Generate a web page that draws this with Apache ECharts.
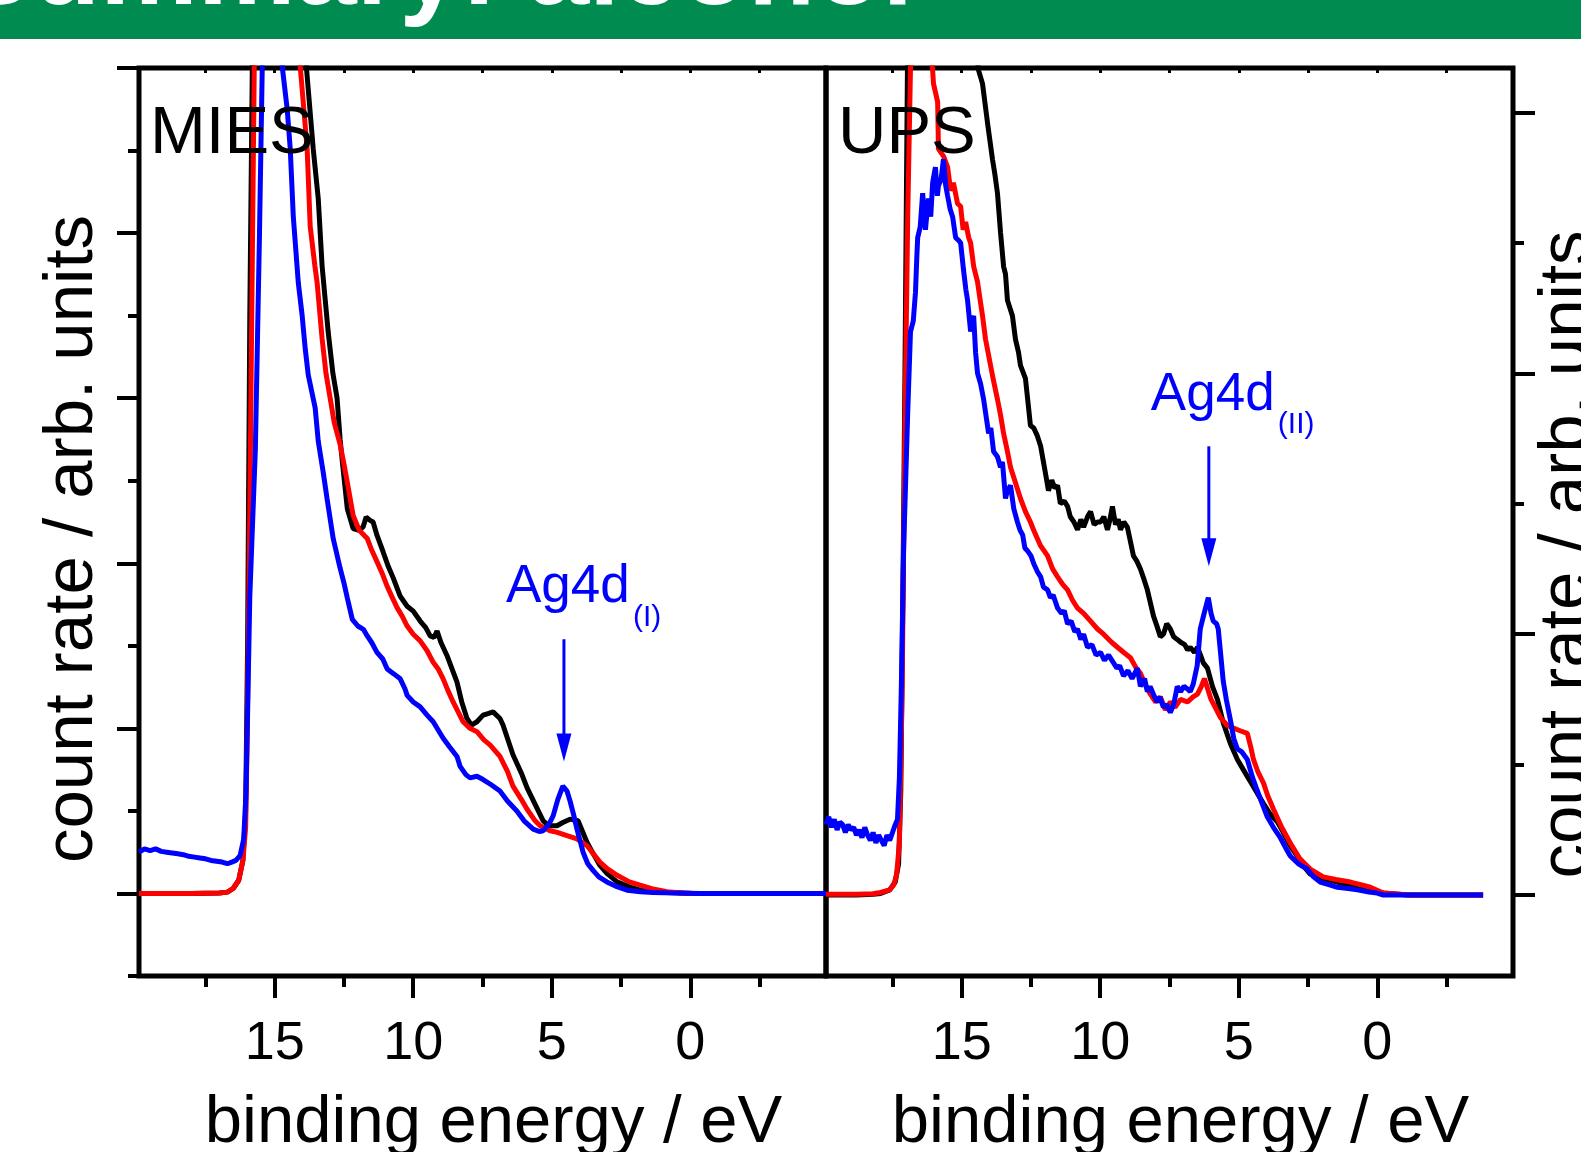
<!DOCTYPE html>
<html><head><meta charset="utf-8">
<script src="https://cdn.jsdelivr.net/npm/echarts@6/dist/echarts.min.js"></script>
<style>html,body{margin:0;padding:0;background:#fff}#c{width:1581px;height:1152px}</style>
</head><body><div id="c"></div>
<script>
// ---------- tick values ----------
const majorEnergyTicks = [15, 10, 5, 0];
const minorEnergyTicks = [17.5, 12.5, 7.5, 2.5, -2.5];
const allEnergyTicks = [17.5, 15, 12.5, 10, 7.5, 5, 2.5, 0, -2.5];
const miesMajorTicks = [0, 1, 2, 3, 4, 5];
const miesMinorTicks = [-0.5, 0.5, 1.5, 2.5, 3.5, 4.5];
const upsMajorTicks = [0, 1, 2, 3];
const upsMinorTicks = [0.5, 1.5, 2.5];
const panelTitles = ['MIES', 'UPS'];
const headerText = 'Summary: alcohol';
const xAxisTitle = 'binding energy / eV';
const yAxisTitle = 'count rate / arb. units';
const peakLabels = ['Ag4d', 'Ag4d'];
const peakSubs = ['(I)', '(II)'];
// arrows: energy, arrow top value, arrow tip value
const arrowEnergy = [4.56, 6.08];
const arrowTop = [1.54, 1.72];
const arrowTip = [0.80, 1.26];

// ---------- MIES panel ----------
const miesBlack = [[19.9,0],[18,0],[17,0.003],[16.71,0.008],[16.5,0.03],[16.3,0.08],[16.15,0.2],[16.05,0.5],[15.98,1.5],[15.9,3.5],[15.78,5.5],[15.6,6.6],[15.2,7.2],[14.7,7.0],[14.2,6.0],[13.86,5.01],[13.61,4.51],[13.43,4.21],[13.29,3.80],[13.07,3.40],[12.9,3.15],[12.75,3.00],[12.64,2.75],[12.55,2.6],[12.38,2.33],[12.17,2.21],[11.95,2.20],[11.81,2.22],[11.7,2.28],[11.56,2.26],[11.45,2.25],[11.31,2.17],[11.09,2.07],[10.9,1.98],[10.72,1.91],[10.47,1.80],[10.22,1.74],[10.0,1.71],[9.75,1.65],[9.55,1.61],[9.39,1.56],[9.25,1.55],[9.14,1.59],[9.0,1.52],[8.78,1.44],[8.6,1.36],[8.42,1.28],[8.25,1.16],[8.06,1.06],[7.9,1.02],[7.84,1.02],[7.7,1.04],[7.48,1.08],[7.3,1.09],[7.12,1.10],[6.87,1.06],[6.76,1.02],[6.6,0.94],[6.40,0.84],[6.1,0.73],[5.89,0.64],[5.6,0.54],[5.31,0.44],[5.1,0.41],[4.81,0.41],[4.6,0.43],[4.34,0.45],[4.05,0.44],[3.9,0.38],[3.73,0.31],[3.5,0.24],[3.26,0.17],[3.0,0.12],[2.64,0.07],[2.2,0.04],[1.81,0.02],[1.2,0.01],[0.84,0.006],[-0.1,0],[-4.9,0]];
const miesRed = [[19.9,0],[18,0],[17,0.003],[16.71,0.008],[16.5,0.03],[16.3,0.08],[16.15,0.2],[16.05,0.4],[16.0,0.9],[15.92,2.0],[15.8,4.0],[15.74,5.0],[15.6,6.2],[15.2,6.9],[14.7,6.6],[14.3,5.7],[14.08,5.01],[13.83,4.51],[13.72,4.04],[13.55,3.80],[13.47,3.70],[13.29,3.36],[13.15,3.15],[13.0,3.00],[12.85,2.85],[12.64,2.72],[12.5,2.60],[12.38,2.49],[12.17,2.29],[11.95,2.20],[11.66,2.15],[11.5,2.08],[11.31,2.01],[11.1,1.93],[10.94,1.86],[10.75,1.79],[10.58,1.73],[10.4,1.68],[10.22,1.62],[10.0,1.57],[9.75,1.53],[9.5,1.47],[9.28,1.40],[9.1,1.36],[8.92,1.30],[8.75,1.23],[8.56,1.16],[8.38,1.10],[8.20,1.04],[7.95,1.0],[7.70,0.98],[7.45,0.93],[7.23,0.90],[6.87,0.83],[6.6,0.74],[6.40,0.65],[6.1,0.57],[5.89,0.51],[5.6,0.44],[5.42,0.41],[5.06,0.38],[4.8,0.37],[4.45,0.35],[4.09,0.33],[3.73,0.29],[3.5,0.24],[3.26,0.19],[3.0,0.15],[2.64,0.11],[2.2,0.07],[1.81,0.05],[1.3,0.025],[0.84,0.01],[0.3,0.003],[-0.1,0],[-4.9,0]];
const miesBlue = [[19.9,0.25],[19.7,0.27],[19.5,0.26],[19.3,0.27],[19.1,0.255],[18.9,0.25],[18.7,0.245],[18.5,0.24],[18.3,0.235],[18.1,0.225],[17.9,0.22],[17.7,0.215],[17.5,0.21],[17.3,0.2],[17.1,0.195],[16.9,0.19],[16.71,0.18],[16.55,0.19],[16.4,0.2],[16.25,0.23],[16.12,0.33],[16.04,0.6],[15.99,1.0],[15.9,1.8],[15.7,2.69],[15.55,4.0],[15.45,5.01],[15.2,5.6],[14.95,5.5],[14.73,5.01],[14.55,4.75],[14.44,4.51],[14.33,4.10],[14.15,3.70],[14.01,3.50],[13.9,3.30],[13.79,3.14],[13.54,2.94],[13.43,2.74],[13.25,2.55],[13.11,2.39],[12.89,2.15],[12.64,1.97],[12.5,1.88],[12.38,1.79],[12.20,1.66],[12.0,1.62],[11.8,1.60],[11.66,1.56],[11.5,1.52],[11.31,1.46],[11.1,1.42],[10.94,1.36],[10.7,1.33],[10.47,1.30],[10.3,1.24],[10.22,1.20],[10.0,1.16],[9.75,1.13],[9.5,1.08],[9.28,1.04],[9.1,0.99],[8.92,0.94],[8.7,0.89],[8.42,0.83],[8.31,0.77],[8.1,0.72],[7.95,0.70],[7.7,0.71],[7.48,0.69],[7.2,0.66],[6.87,0.62],[6.6,0.56],[6.26,0.50],[6.0,0.44],[5.67,0.39],[5.45,0.375],[5.31,0.38],[5.1,0.42],[4.95,0.47],[4.78,0.57],[4.60,0.65],[4.45,0.62],[4.34,0.56],[4.2,0.47],[4.09,0.39],[3.87,0.25],[3.7,0.18],[3.51,0.14],[3.3,0.10],[3.01,0.07],[2.7,0.045],[2.28,0.02],[1.8,0.01],[1.35,0.006],[0.5,0.002],[-0.35,0],[-4.9,0]];

// ---------- UPS panel ----------
const upsBlack = [[19.9,0],[18.8,0],[18.2,0.003],[17.93,0.006],[17.6,0.02],[17.4,0.05],[17.28,0.12],[17.2,0.4],[17.12,1.2],[17.05,2.0],[16.96,3.17],[16.7,3.7],[16.0,4.0],[15.2,3.8],[14.7,3.4],[14.39,3.16],[14.25,3.11],[14.07,2.96],[13.89,2.82],[13.80,2.76],[13.71,2.69],[13.60,2.54],[13.49,2.41],[13.42,2.38],[13.35,2.28],[13.17,2.22],[13.06,2.13],[12.95,2.08],[12.88,2.03],[12.70,1.98],[12.60,1.88],[12.52,1.80],[12.40,1.79],[12.27,1.76],[12.15,1.72],[12.05,1.66],[11.95,1.60],[11.87,1.55],[11.75,1.59],[11.64,1.56],[11.54,1.57],[11.44,1.50],[11.30,1.51],[11.18,1.49],[11.08,1.45],[10.95,1.43],[10.82,1.40],[10.70,1.44],[10.60,1.41],[10.46,1.45],[10.35,1.47],[10.22,1.42],[10.10,1.43],[9.99,1.43],[9.87,1.45],[9.74,1.40],[9.65,1.44],[9.56,1.49],[9.45,1.42],[9.35,1.44],[9.27,1.40],[9.15,1.43],[9.02,1.41],[8.92,1.36],[8.80,1.30],[8.68,1.28],[8.55,1.25],[8.42,1.21],[8.30,1.17],[8.19,1.12],[8.08,1.07],[7.95,1.03],[7.83,0.99],[7.72,1.00],[7.60,1.04],[7.47,1.02],[7.35,0.99],[7.22,0.98],[7.11,0.97],[6.95,0.96],[6.85,0.94],[6.75,0.95],[6.60,0.93],[6.49,0.95],[6.38,0.92],[6.28,0.89],[6.13,0.87],[5.95,0.80],[5.77,0.75],[5.56,0.66],[5.30,0.58],[5.05,0.52],[4.83,0.48],[4.55,0.43],[4.33,0.39],[4.1,0.35],[3.86,0.31],[3.6,0.28],[3.39,0.24],[3.15,0.19],[2.89,0.15],[2.65,0.11],[2.42,0.08],[2.0,0.065],[1.44,0.05],[0.7,0.025],[-0.22,0.008],[-1.08,0],[-3.82,0]];
const upsRed = [[19.9,0.003],[18.8,0.003],[18.2,0.005],[17.93,0.01],[17.6,0.02],[17.45,0.04],[17.35,0.08],[17.25,0.2],[17.15,0.8],[17.05,1.8],[16.95,2.6],[16.85,3.17],[16.6,3.6],[16.3,3.45],[16.05,3.16],[16.02,3.11],[15.87,3.04],[15.84,2.86],[15.65,2.83],[15.51,2.79],[15.40,2.70],[15.30,2.73],[15.15,2.65],[15.04,2.64],[14.95,2.55],[14.86,2.58],[14.75,2.52],[14.68,2.50],[14.57,2.41],[14.43,2.35],[14.32,2.27],[14.25,2.22],[14.14,2.13],[14.05,2.08],[13.96,2.03],[13.85,1.97],[13.71,1.90],[13.60,1.84],[13.49,1.77],[13.35,1.70],[13.24,1.64],[13.06,1.58],[12.88,1.52],[12.70,1.47],[12.52,1.43],[12.41,1.40],[12.16,1.34],[11.90,1.30],[11.72,1.25],[11.54,1.22],[11.35,1.19],[11.18,1.17],[11.0,1.13],[10.82,1.10],[10.6,1.08],[10.35,1.05],[10.1,1.02],[9.88,1.00],[9.6,0.97],[9.38,0.95],[9.15,0.93],[8.91,0.91],[8.7,0.87],[8.55,0.85],[8.35,0.80],[8.19,0.77],[8.0,0.74],[7.83,0.76],[7.65,0.71],[7.47,0.74],[7.3,0.72],[7.1,0.75],[6.85,0.74],[6.65,0.76],[6.49,0.77],[6.35,0.80],[6.24,0.83],[6.12,0.79],[6.0,0.75],[5.85,0.72],[5.66,0.68],[5.41,0.65],[5.19,0.64],[4.95,0.63],[4.69,0.62],[4.55,0.56],[4.47,0.52],[4.3,0.47],[4.11,0.43],[3.95,0.38],[3.75,0.33],[3.45,0.26],[3.14,0.20],[2.8,0.14],[2.42,0.10],[1.95,0.07],[1.5,0.06],[0.97,0.05],[0.6,0.04],[0.25,0.03],[-0.22,0.008],[-1.19,0],[-3.82,0]];
const upsBlue = [[19.9,0.27],[19.8,0.30],[19.7,0.26],[19.6,0.29],[19.5,0.25],[19.4,0.28],[19.3,0.27],[19.2,0.24],[19.1,0.27],[19.0,0.25],[18.9,0.26],[18.8,0.23],[18.7,0.25],[18.6,0.22],[18.5,0.26],[18.4,0.23],[18.3,0.21],[18.2,0.24],[18.1,0.20],[18.0,0.23],[17.9,0.21],[17.8,0.19],[17.7,0.23],[17.6,0.21],[17.5,0.24],[17.4,0.27],[17.32,0.29],[17.25,0.45],[17.18,0.8],[17.10,1.32],[16.95,1.85],[16.85,2.16],[16.75,2.20],[16.67,2.31],[16.62,2.45],[16.59,2.52],[16.5,2.56],[16.41,2.69],[16.31,2.55],[16.25,2.62],[16.20,2.67],[16.12,2.60],[16.05,2.73],[15.95,2.79],[15.88,2.68],[15.84,2.72],[15.75,2.74],[15.66,2.82],[15.58,2.72],[15.51,2.68],[15.42,2.63],[15.33,2.60],[15.22,2.52],[15.12,2.51],[15.04,2.50],[14.94,2.40],[14.85,2.32],[14.79,2.28],[14.68,2.16],[14.60,2.21],[14.57,2.22],[14.50,2.08],[14.43,2.00],[14.32,1.96],[14.21,1.90],[14.10,1.82],[14.03,1.77],[13.95,1.79],[13.85,1.70],[13.71,1.68],[13.60,1.64],[13.53,1.66],[13.42,1.52],[13.35,1.55],[13.24,1.57],[13.12,1.48],[12.99,1.43],[12.90,1.40],[12.80,1.38],[12.72,1.33],[12.63,1.32],[12.50,1.30],[12.40,1.27],[12.27,1.24],[12.15,1.22],[12.05,1.18],[11.90,1.17],[11.80,1.14],[11.70,1.15],[11.54,1.10],[11.40,1.08],[11.30,1.09],[11.18,1.04],[11.05,1.05],[10.92,1.01],[10.82,1.02],[10.70,0.98],[10.60,1.00],[10.46,0.95],[10.30,0.96],[10.15,0.92],[9.99,0.93],[9.85,0.90],[9.70,0.92],[9.52,0.89],[9.40,0.87],[9.30,0.88],[9.16,0.84],[9.00,0.86],[8.85,0.83],[8.66,0.87],[8.55,0.80],[8.40,0.83],[8.30,0.78],[8.20,0.80],[8.08,0.77],[7.95,0.74],[7.85,0.76],[7.72,0.72],[7.60,0.73],[7.47,0.70],[7.35,0.73],[7.22,0.80],[7.10,0.78],[6.98,0.80],[6.85,0.79],[6.75,0.78],[6.64,0.81],[6.50,0.88],[6.39,1.02],[6.25,1.08],[6.10,1.14],[6.00,1.08],[5.92,1.05],[5.80,1.04],[5.74,1.02],[5.65,0.92],[5.56,0.82],[5.45,0.75],[5.30,0.67],[5.18,0.60],[5.05,0.56],[4.90,0.55],[4.69,0.52],[4.50,0.45],[4.33,0.40],[4.15,0.35],[3.97,0.30],[3.75,0.26],[3.50,0.22],[3.30,0.18],[3.14,0.15],[2.85,0.12],[2.53,0.10],[2.30,0.07],[2.06,0.05],[1.75,0.04],[1.44,0.03],[1.05,0.025],[0.72,0.02],[0.3,0.012],[0,0.008],[-0.22,0],[-3.82,0]];

// ---------- chart ----------
const FONT = "'Liberation Sans', Arial, Helvetica, sans-serif";
const BLACK = '#000000', RED = '#ff0000', BLUE = '#0000ff';
const chart = echarts.init(document.getElementById('c'), null, {renderer: 'canvas'});

function energyAxis(gridIndex, kind) {
  const base = {
    type: 'value', gridIndex: gridIndex, min: -4.9, max: 19.9, inverse: true,
    axisLine: {show: false, onZero: false}, splitLine: {show: false}, minorTick: {show: false},
    axisLabel: {show: false}, axisPointer: {show: false}
  };
  if (kind === 'major') {
    base.position = 'bottom';
    base.axisTick = {show: true, customValues: majorEnergyTicks, length: 22, inside: false, lineStyle: {color: BLACK, width: 4}};
    base.axisLabel = {show: true, customValues: majorEnergyTicks, margin: 41, fontSize: 54, color: BLACK, fontFamily: FONT};
    base.name = xAxisTitle;
    base.nameLocation = 'middle';
    base.nameGap = 114;
    base.nameTextStyle = {fontSize: 67, color: BLACK, fontFamily: FONT, padding: [0, 0, 0, 22]};
  } else if (kind === 'minor') {
    base.position = 'bottom';
    base.axisTick = {show: true, customValues: minorEnergyTicks, length: 11, inside: false, lineStyle: {color: BLACK, width: 4}};
  } else {
    base.position = 'top';
    base.axisTick = {show: true, customValues: allEnergyTicks, length: 5, inside: true, lineStyle: {color: BLACK, width: 3}};
  }
  return base;
}

function countAxis(gridIndex, position, min, max, ticks, len, withName, namePad, nameGap) {
  const a = {
    type: 'value', gridIndex: gridIndex, position: position, min: min, max: max,
    axisLine: {show: false, onZero: false}, splitLine: {show: false}, minorTick: {show: false},
    axisLabel: {show: false}, axisPointer: {show: false},
    axisTick: {show: true, customValues: ticks, length: len, inside: false, lineStyle: {color: BLACK, width: 4}}
  };
  if (withName) {
    a.name = yAxisTitle;
    a.nameLocation = 'middle';
    a.nameRotate = 90;
    a.nameGap = nameGap;
    a.nameTextStyle = {fontSize: 69, color: BLACK, fontFamily: FONT, padding: namePad};
  }
  return a;
}

function lineSeries(data, color, xi, yi) {
  return {
    type: 'line', data: data, xAxisIndex: xi, yAxisIndex: yi,
    showSymbol: false, symbol: 'none', smooth: false, clip: true,
    lineStyle: {color: color, width: 5}, itemStyle: {color: color},
    emphasis: {disabled: true}, silent: true, animation: false
  };
}

const option = {
  animation: false,
  backgroundColor: '#ffffff',
  grid: [
    {left: 139, top: 68, width: 687, height: 908, show: true, borderColor: BLACK, borderWidth: 5, backgroundColor: 'transparent', containLabel: false, outerBoundsMode: 'none'},
    {left: 826, top: 68, width: 687, height: 908, show: true, borderColor: BLACK, borderWidth: 5, backgroundColor: 'transparent', containLabel: false, outerBoundsMode: 'none'}
  ],
  xAxis: [
    energyAxis(0, 'major'), energyAxis(0, 'minor'), energyAxis(0, 'top'),
    energyAxis(1, 'major'), energyAxis(1, 'minor'), energyAxis(1, 'top')
  ],
  yAxis: [
    countAxis(0, 'left', -0.5, 5, miesMajorTicks, 22, true, [0, 34, 0, 0], 32),
    countAxis(0, 'left', -0.5, 5, miesMinorTicks, 11, false),
    countAxis(1, 'right', -0.31, 3.17, upsMajorTicks, 22, true, [0, 65, 0, 0], 20),
    countAxis(1, 'right', -0.31, 3.17, upsMinorTicks, 11, false)
  ],
  series: [
    lineSeries(miesBlack, BLACK, 0, 0),
    lineSeries(miesRed, RED, 0, 0),
    lineSeries(miesBlue, BLUE, 0, 0),
    lineSeries(upsBlack, BLACK, 3, 2),
    lineSeries(upsRed, RED, 3, 2),
    lineSeries(upsBlue, BLUE, 3, 2)
  ]
};
chart.setOption(option);

// ---------- annotations ----------
const finders = [{xAxisIndex: 0, yAxisIndex: 0}, {xAxisIndex: 3, yAxisIndex: 2}];
const graphics = [
  {type: 'rect', shape: {x: 0, y: 0, width: 1581, height: 39}, style: {fill: '#008c50'}, z: 10},
  {type: 'text', z: 11, style: {text: headerText, x: 913, y: -26, align: 'right', verticalAlign: 'middle',
    font: "bold 110px 'Liberation Sans', Arial, sans-serif", fill: '#ffffff'}},
  {type: 'text', z: 11, style: {text: panelTitles[0], x: 150, y: 135, align: 'left', verticalAlign: 'middle',
    font: "67px 'Liberation Sans', Arial, sans-serif", fill: BLACK}},
  {type: 'text', z: 11, style: {text: panelTitles[1], x: 838, y: 135, align: 'left', verticalAlign: 'middle',
    font: "67px 'Liberation Sans', Arial, sans-serif", fill: BLACK}}
];
for (let i = 0; i < 2; i++) {
  const top = chart.convertToPixel(finders[i], [arrowEnergy[i], arrowTop[i]]);
  const tip = chart.convertToPixel(finders[i], [arrowEnergy[i], arrowTip[i]]);
  const ax = top[0];
  graphics.push({type: 'line', z: 12, shape: {x1: ax, y1: top[1], x2: ax, y2: tip[1] - 24},
    style: {stroke: BLUE, lineWidth: 3}});
  graphics.push({type: 'polygon', z: 12, shape: {points: [[ax - 7.5, tip[1] - 28], [ax + 7.5, tip[1] - 28], [ax, tip[1]]]},
    style: {fill: BLUE}});
  graphics.push({type: 'text', z: 12, style: {text: peakLabels[i], x: ax - 58, y: top[1] - 33 - 18.4,
    align: 'left', verticalAlign: 'middle', font: "53px 'Liberation Sans', Arial, sans-serif", fill: BLUE}});
  graphics.push({type: 'text', z: 12, style: {text: peakSubs[i], x: ax + 69, y: top[1] - 11 - 10.6,
    align: 'left', verticalAlign: 'middle', font: "30px 'Liberation Sans', Arial, sans-serif", fill: BLUE}});
}
chart.setOption({graphic: graphics});
</script>
</body></html>
